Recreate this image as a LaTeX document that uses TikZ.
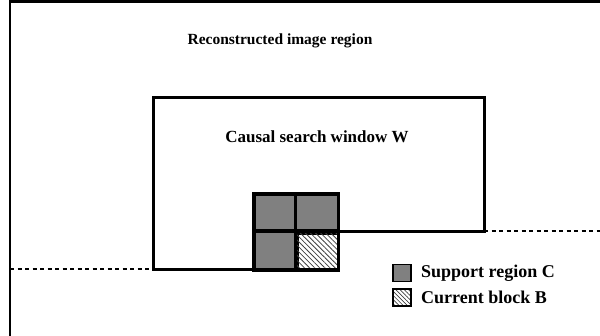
\documentclass[tikz,border=0pt]{standalone}
\usepackage{fontspec}
\setmainfont{Liberation Serif}
\usetikzlibrary{patterns.meta}
\tikzset{
  frame/.style={line width=2.6pt, line cap=rect},
  win/.style={line width=3pt, line join=miter},
  blk/.style={draw, line width=3.6pt, fill=black!50, minimum width=43pt, minimum height=38.5pt, inner sep=0pt, outer sep=0pt},
  hatchblk/.style={draw, line width=3.6pt, minimum width=43pt, minimum height=38.5pt, inner sep=0pt, outer sep=0pt,
    pattern={Lines[angle=-45, distance=3.6pt, line width=0.8pt]}, pattern color=black!75},
  lgbox/.style={draw, line width=1.3pt, minimum width=18pt, minimum height=17pt, inner sep=0pt},
  dashline/.style={line width=1.4pt, dash pattern=on 4pt off 3.5pt},
  lbl/.style={font=\fontsize{15.5pt}{18pt}\selectfont\bfseries, inner sep=0pt},
  lgtext/.style={font=\fontsize{18pt}{20pt}\selectfont\bfseries, inner sep=0pt, anchor=west},
}
\begin{document}
\begin{tikzpicture}[x=1pt, y=-1pt]
\useasboundingbox (0,0) rectangle (600,335);
\fill[white] (0,0) rectangle (600,335);
% outer reconstructed region
\draw[frame] (10,335) -- (10,1.5) -- (600,1.5);
\node[lbl] (title) at (280,41) {Reconstructed image region};
% causal search window
\coordinate (wbl) at (153,269);
\coordinate (wtl) at (153,97);
\coordinate (wtr) at (484,97);
\coordinate (wbr) at (484,231);
\draw[win] (255,269) -- (wbl) -- (wtl) -- (wtr) -- (wbr) -- (336,231);
\node[lbl, font=\fontsize{17pt}{19pt}\selectfont\bfseries] (wlabel) at (317,137) {Causal search window W};
% dashed continuations
\coordinate (dl) at (10,269);
\coordinate (dr) at (600,231);
\draw[dashline] (dl) -- (wbl);
\draw[dashline] (wbr) -- (dr);
% blocks
\node[blk] (c1) at (275.5,213.5) {};
\node[blk] (c2) at (317,213.5) {};
\node[blk] (c3) at (275.5,250.5) {};
\node[hatchblk] (b) at (317,250.5) {};
% legend
\node[lgbox, fill=black!50] (lg1) at (402,273) {};
\node[lgtext] (lt1) at (421,273) {Support region C};
\node[lgbox, pattern={Lines[angle=-45, distance=3pt, line width=0.7pt]}, pattern color=black!75] (lg2) at (402,297.5) {};
\node[lgtext] (lt2) at (421,297.5) {Current block B};
\end{tikzpicture}
\end{document}
